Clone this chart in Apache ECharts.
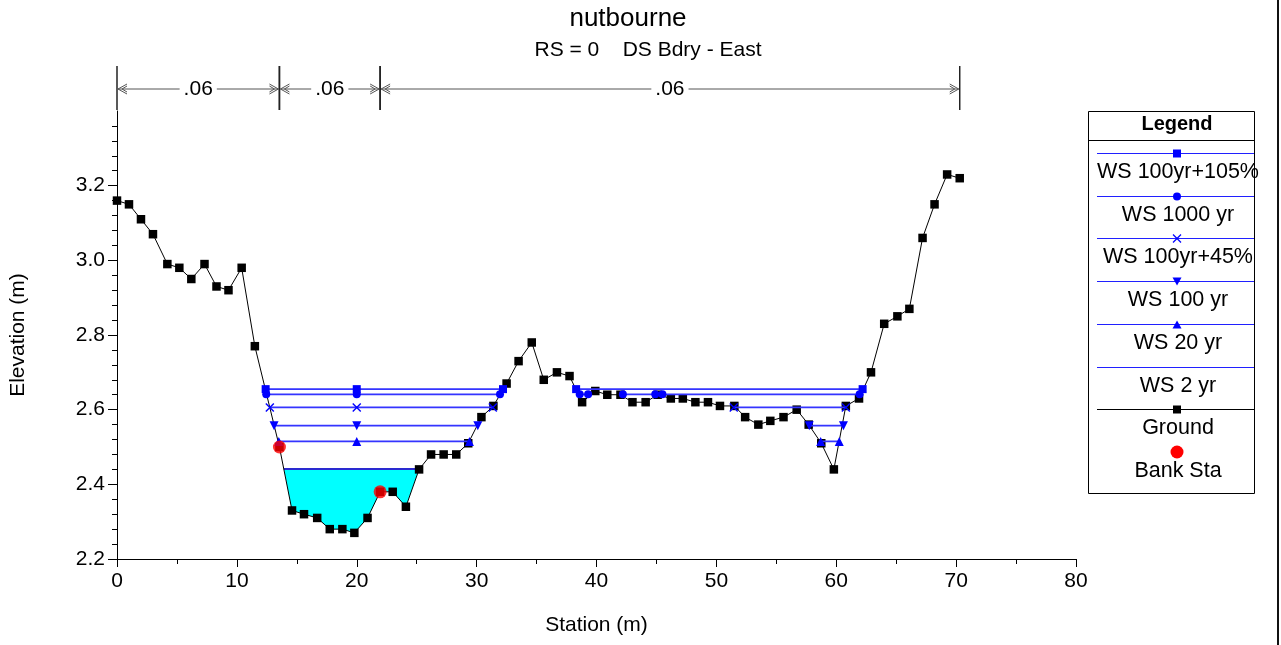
<!DOCTYPE html>
<html><head><meta charset="utf-8">
<script src="https://cdn.jsdelivr.net/npm/echarts@6/dist/echarts.min.js"></script>
<style>html,body{margin:0;padding:0;background:#fff}#c{width:1281px;height:645px}</style>
</head><body><div id="c"></div>
<script>
const FONT = '"Liberation Sans", Arial, Helvetica, sans-serif';

// ---- data ----
const groundStation = [0, 1.0, 2.0, 3.0, 4.2, 5.2, 6.2, 7.3, 8.3, 9.3, 10.4, 11.5, 13.55, 14.6, 15.6, 16.7, 17.75, 18.8, 19.8, 20.9, 21.95, 23.0, 24.1, 25.2, 26.2, 27.25, 28.3, 29.3, 30.4, 31.4, 32.5, 33.5, 34.6, 35.6, 36.7, 37.75, 38.8, 39.9, 40.9, 42.0, 43.0, 44.1, 45.1, 46.2, 47.2, 48.25, 49.3, 50.3, 51.5, 52.4, 53.5, 54.5, 55.6, 56.7, 57.7, 58.75, 59.8, 60.8, 61.9, 62.9, 64.0, 65.1, 66.1, 67.2, 68.2, 69.25, 70.3];
const groundElev = [3.16, 3.15, 3.11, 3.07, 2.99, 2.98, 2.95, 2.99, 2.93, 2.92, 2.98, 2.77, 2.50, 2.33, 2.32, 2.31, 2.28, 2.28, 2.27, 2.31, 2.38, 2.38, 2.34, 2.44, 2.48, 2.48, 2.48, 2.51, 2.58, 2.61, 2.67, 2.73, 2.78, 2.68, 2.70, 2.69, 2.62, 2.65, 2.64, 2.64, 2.62, 2.62, 2.64, 2.63, 2.63, 2.62, 2.62, 2.61, 2.61, 2.58, 2.56, 2.57, 2.58, 2.60, 2.56, 2.51, 2.44, 2.61, 2.63, 2.70, 2.83, 2.85, 2.87, 3.06, 3.15, 3.23, 3.22];

const bankStation = [13.55, 21.95];
const bankElev = [2.50, 2.38];

const nBreaks = [0, 13.55, 21.95, 70.3];
const nValues = ['.06', '.06', '.06'];

const wsNames = ['WS 100yr+105%', 'WS 1000 yr', 'WS 100yr+45%', 'WS 100 yr', 'WS 20 yr', 'WS 2 yr'];
const wsElev = [2.655, 2.641, 2.606, 2.557, 2.515, 2.441];
const wsSegments = [
  [[12.4, 20, 32.2], [38.3, 62.2]],
  [[12.45, 20, 31.95], [38.6, 39.3], [42.2, 44.9], [45.5, 61.95]],
  [[12.75, 20, 31.35], [51.45, 60.8]],
  [[13.1, 20, 30.1], [57.75, 60.6]],
  [[13.5, 20, 29.4], [58.7, 60.25]],
  [[13.92, 25.2]]
];

const xMin = 0, xMax = 80, xStep = 10;
const yMin = 2.2, yMax = 3.4;
const yTickValues = [2.2, 2.4, 2.6, 2.8, 3.0, 3.2];
const yMinorValues = [];
yTickValues.forEach(v => { for (let k = 1; k <= 4; k++) { const m = +(v + k * 0.04).toFixed(2); if (m < 3.38) yMinorValues.push(m); } });

// ---- styles ----
const WS_LINE = '#3535ff';
const WS_MARK = '#0000ff';
const wsSymbols = [
  { symbol: 'rect', size: 8, rotate: 0 },
  { symbol: 'circle', size: 8, rotate: 0 },
  { symbol: 'path://M0,0L10,10M10,0L0,10', size: 8, rotate: 0, stroke: true },
  { symbol: 'triangle', size: 9, rotate: 180 },
  { symbol: 'triangle', size: 9, rotate: 0 },
  { symbol: 'none', size: 0, rotate: 0 }
];

function wsData(idx) {
  const out = [];
  wsSegments[idx].forEach((seg, si) => {
    if (si > 0) out.push(['-', '-']);
    seg.forEach(s => out.push([s, wsElev[idx]]));
  });
  return out;
}

const series = [];

// water fill for WS 2 yr
series.push({
  type: 'custom', name: 'fill', silent: true, z: 1,
  data: [[wsSegments[5][0][0], wsElev[5]]],
  renderItem: function (params, api) {
    const seg = wsSegments[5][0];
    const s0 = seg[0], s1 = seg[seg.length - 1], e = wsElev[5];
    const pts = [api.coord([s0, e])];
    groundStation.forEach((s, i) => { if (s > s0 && s < s1) pts.push(api.coord([s, groundElev[i]])); });
    pts.push(api.coord([s1, e]));
    return { type: 'polygon', shape: { points: pts }, style: { fill: '#00ffff', stroke: 'none' } };
  }
});

// ground
series.push({
  type: 'line', name: 'Ground', z: 3,
  data: groundStation.map((s, i) => [s, groundElev[i]]),
  symbol: 'rect', symbolSize: 8.5,
  itemStyle: { color: '#000' },
  lineStyle: { color: '#000', width: 1 },
  silent: true
});

// WS lines
wsNames.forEach((name, idx) => {
  const sym = wsSymbols[idx];
  const isTwo = idx === 5;
  series.push({
    type: 'line', name: name, z: isTwo ? 2 : 4,
    data: wsData(idx),
    connectNulls: false,
    symbol: sym.symbol, symbolSize: sym.size, symbolRotate: sym.rotate,
    showSymbol: sym.symbol !== 'none',
    itemStyle: sym.stroke ? { color: 'rgba(0,0,0,0)', borderColor: WS_MARK, borderWidth: 1.4 } : { color: WS_MARK },
    lineStyle: { color: isTwo ? '#2a2ad0' : WS_LINE, width: isTwo ? 2 : 1.7 },
    silent: true
  });
});

// bank stations
series.push({
  type: 'scatter', name: 'Bank Sta', z: 6,
  data: bankStation.map((s, i) => [s, bankElev[i]]),
  symbol: 'circle', symbolSize: 13,
  itemStyle: { color: '#ff0000' },
  silent: true
});

// Manning's n brackets above the plot
series.push({
  type: 'custom', name: 'nvalues', silent: true, z: 5, clip: false,
  data: nValues.map((v, i) => [nBreaks[i], yMax]),
  renderItem: function (params, api) {
    const i = params.dataIndex;
    const pa = api.coord([nBreaks[i], yMax]);
    const pb = api.coord([nBreaks[i + 1], yMax]);
    const xa = pa[0], xb = pb[0], top = pa[1];
    const y1 = top - 45, y2 = top - 1, ya = top - 22;
    const grey = '#555';
    const chev = (x, dir) => [
      { type: 'polyline', shape: { points: [[x + dir * 10, ya - 5], [x + dir * 1, ya], [x + dir * 10, ya + 5]] }, style: { stroke: grey, lineWidth: 1, fill: 'none' } },
      { type: 'polyline', shape: { points: [[x + dir * 10, ya - 3], [x + dir * 5, ya], [x + dir * 10, ya + 3]] }, style: { stroke: grey, lineWidth: 1, fill: 'none' } }
    ];
    return {
      type: 'group',
      children: [
        { type: 'line', shape: { x1: xa, y1: y1, x2: xa, y2: y2 }, style: { stroke: '#222', lineWidth: 1.5 } },
        { type: 'line', shape: { x1: xb, y1: y1, x2: xb, y2: y2 }, style: { stroke: '#222', lineWidth: 1.5 } },
        { type: 'line', shape: { x1: xa + 1, y1: ya, x2: xb - 1, y2: ya }, style: { stroke: grey, lineWidth: 1 } }
      ].concat(chev(xa, 1), chev(xb, -1), [
        { type: 'text', x: (xa + xb) / 2, y: ya, style: { text: nValues[i], align: 'center', verticalAlign: 'middle', font: '21px ' + FONT, fill: '#000', backgroundColor: '#fff', padding: [0, 4] } }
      ])
    };
  }
});

// ---- legend (drawn) ----
const LX0 = 1088, LX1 = 1254, LCX = 1177;
const legend = [];
legend.push({ type: 'rect', shape: { x: LX0 + 0.5, y: 111.5, width: LX1 - LX0, height: 382 }, style: { fill: '#fff', stroke: '#000', lineWidth: 1 }, z: 10 });
legend.push({ type: 'line', shape: { x1: LX0, y1: 140.5, x2: LX1, y2: 140.5 }, style: { stroke: '#000', lineWidth: 1 }, z: 11 });
legend.push({ type: 'text', x: LCX, y: 124, style: { text: 'Legend', align: 'center', verticalAlign: 'middle', font: 'bold 20px ' + FONT, fill: '#000' }, z: 11 });
const entries = wsNames.concat(['Ground']);
entries.forEach((name, k) => {
  const ly = Math.round(153 + k * 42.7) + 0.5;
  const isGround = name === 'Ground';
  const col = isGround ? '#000' : '#2020ff';
  legend.push({ type: 'line', shape: { x1: 1097, y1: ly, x2: LX1, y2: ly }, style: { stroke: col, lineWidth: 1 }, z: 11 });
  let m = null;
  const c = isGround ? '#000' : WS_MARK;
  if (isGround || k === 0) m = { type: 'rect', shape: { x: LCX - 4, y: ly - 4, width: 8, height: 8 }, style: { fill: c } };
  else if (k === 1) m = { type: 'circle', shape: { cx: LCX, cy: ly, r: 4 }, style: { fill: c } };
  else if (k === 2) m = { type: 'polyline', shape: { points: [[LCX - 4, ly - 4], [LCX + 4, ly + 4]] }, style: { stroke: c, lineWidth: 1.3 } };
  else if (k === 3) m = { type: 'polygon', shape: { points: [[LCX - 4.5, ly - 4], [LCX + 4.5, ly - 4], [LCX, ly + 4]] }, style: { fill: c } };
  else if (k === 4) m = { type: 'polygon', shape: { points: [[LCX - 4.5, ly + 4], [LCX + 4.5, ly + 4], [LCX, ly - 4]] }, style: { fill: c } };
  if (m) { m.z = 12; legend.push(m); }
  if (k === 2) legend.push({ type: 'polyline', shape: { points: [[LCX + 4, ly - 4], [LCX - 4, ly + 4]] }, style: { stroke: c, lineWidth: 1.3 }, z: 12 });
  legend.push({ type: 'text', x: LCX + 1, y: ly + 19, style: { text: name, align: 'center', verticalAlign: 'middle', font: '21.5px ' + FONT, fill: '#000' }, z: 11 });
});
legend.push({ type: 'circle', shape: { cx: LCX, cy: 452, r: 6.5 }, style: { fill: '#ff0000' }, z: 12 });
legend.push({ type: 'text', x: LCX + 1, y: 471, style: { text: 'Bank Sta', align: 'center', verticalAlign: 'middle', font: '21.5px ' + FONT, fill: '#000' }, z: 11 });

const graphics = [
  { type: 'text', x: 628, y: 19, style: { text: 'nutbourne', align: 'center', verticalAlign: 'middle', font: '26px ' + FONT, fill: '#000' } },
  { type: 'text', x: 648, y: 50, style: { text: 'RS = 0    DS Bdry - East', align: 'center', verticalAlign: 'middle', font: '21px ' + FONT, fill: '#000' } },
  { type: 'line', shape: { x1: 1278, y1: 0, x2: 1278, y2: 645 }, style: { stroke: '#111', lineWidth: 2 } }
].concat(legend);

const chart = echarts.init(document.getElementById('c'), null, { renderer: 'canvas' });
chart.setOption({
  animation: false,
  backgroundColor: '#fff',
  textStyle: { fontFamily: FONT },
  grid: { left: 116, top: 111, right: 205, bottom: 86, containLabel: false },
  xAxis: {
    type: 'value', min: xMin, max: xMax, interval: xStep,
    name: 'Station (m)', nameLocation: 'middle', nameGap: 56,
    nameTextStyle: { fontSize: 21, color: '#000', fontFamily: FONT },
    axisLine: { lineStyle: { color: '#000', width: 1 } },
    axisTick: { length: 8, lineStyle: { color: '#000' } },
    minorTick: { show: true, splitNumber: 2, length: 5, lineStyle: { color: '#000' } },
    axisLabel: { fontSize: 21, color: '#000', margin: 12, fontFamily: FONT },
    splitLine: { show: false }
  },
  yAxis: [{
    type: 'value', min: yMin, max: yMax,
    name: 'Elevation (m)', nameLocation: 'middle', nameGap: 88, nameRotate: 90,
    nameTextStyle: { fontSize: 21, color: '#000', fontFamily: FONT },
    axisLine: { show: true, lineStyle: { color: '#000', width: 1 } },
    axisTick: { show: true, length: 9, customValues: yTickValues, lineStyle: { color: '#000' } },
    axisLabel: { fontSize: 21, color: '#000', margin: 12, customValues: yTickValues, fontFamily: FONT, formatter: v => v.toFixed(1) },
    splitLine: { show: false }
  }, {
    type: 'value', min: yMin, max: yMax, position: 'left', offset: 0,
    axisLine: { show: false },
    axisTick: { show: true, length: 5, customValues: yMinorValues, lineStyle: { color: '#000' } },
    axisLabel: { show: false },
    splitLine: { show: false }
  }],
  series: series,
  graphic: graphics
});
</script></body></html>
